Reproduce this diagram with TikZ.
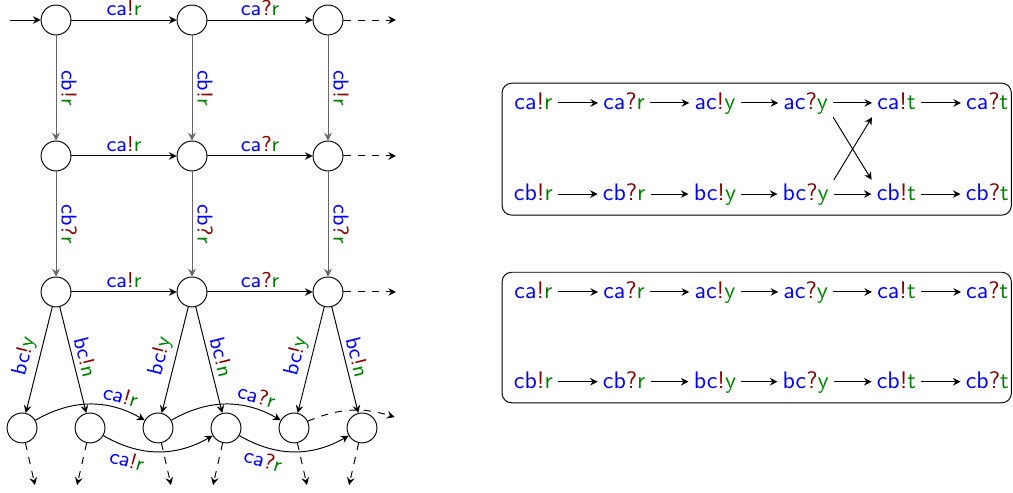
\documentclass[tikz,border=0pt]{standalone}
\usetikzlibrary{arrows.meta}

\begin{document}
\begin{tikzpicture}[font=\sffamily, >={Stealth[length=3.2pt, width=3.2pt, inset=1.1pt]}]
\newcommand{\chanmsg}[3]{\textcolor{blue}{#1}\textcolor{red!50!black}{#2}\textcolor{green!50!black}{#3}}
\newcommand{\boxL}{6.56}
\newcommand{\boxR}{14.05}

\tikzset{ loc/.style={draw, circle, minimum size=4.4mm, inner sep=0pt},
  msg/.style={text height=1.5ex, text depth=.25ex, inner sep=2pt},
  hlbl/.style={above, font=\sffamily\small, inner sep=1.5pt},
  lbl/.style={above, sloped, font=\sffamily\small, inner sep=2pt},
  vstep/.style={->, black!60}
}

\useasboundingbox (-0.824, 0.294) rectangle (14.074, -6.956);

\node[loc] (g11) at (0, 0) {};
\node[loc] (g12) at (2, 0) {};
\node[loc] (g13) at (4, 0) {};
\node[loc] (g21) at (0, -2) {};
\node[loc] (g22) at (2, -2) {};
\node[loc] (g23) at (4, -2) {};
\node[loc] (g31) at (0, -4) {};
\node[loc] (g32) at (2, -4) {};
\node[loc] (g33) at (4, -4) {};

\node[loc] (b1) at (-0.5, -6) {};
\node[loc] (b2) at (0.5, -6) {};
\node[loc] (b3) at (1.5, -6) {};
\node[loc] (b4) at (2.5, -6) {};
\node[loc] (b5) at (3.5, -6) {};
\node[loc] (b6) at (4.5, -6) {};

\coordinate (in) at (-0.68, 0);
\coordinate (o1) at (5, 0);
\coordinate (o2) at (5, -2);
\coordinate (o3) at (5, -4);
\coordinate (o4) at (4.98, -5.84);
\coordinate (d1) at (-0.31, -6.84);
\coordinate (d2) at (0.31, -6.84);
\coordinate (d3) at (1.69, -6.84);
\coordinate (d4) at (2.31, -6.84);
\coordinate (d5) at (3.69, -6.84);
\coordinate (d6) at (4.31, -6.84);

\draw[->] (in) -- (g11);
\draw[->] (g11) -- node[hlbl] {\chanmsg{ca}{!}{r}} (g12);
\draw[->] (g12) -- node[hlbl] {\chanmsg{ca}{?}{r}} (g13);
\draw[->, dashed] (g13) -- (o1);
\draw[->] (g21) -- node[hlbl] {\chanmsg{ca}{!}{r}} (g22);
\draw[->] (g22) -- node[hlbl] {\chanmsg{ca}{?}{r}} (g23);
\draw[->, dashed] (g23) -- (o2);
\draw[->] (g31) -- node[hlbl] {\chanmsg{ca}{!}{r}} (g32);
\draw[->] (g32) -- node[hlbl] {\chanmsg{ca}{?}{r}} (g33);
\draw[->, dashed] (g33) -- (o3);

\draw[vstep] (g11) -- node[lbl] {\chanmsg{cb}{!}{r}} (g21);
\draw[vstep] (g12) -- node[lbl] {\chanmsg{cb}{!}{r}} (g22);
\draw[vstep] (g13) -- node[lbl] {\chanmsg{cb}{!}{r}} (g23);
\draw[vstep] (g21) -- node[lbl] {\chanmsg{cb}{?}{r}} (g31);
\draw[vstep] (g22) -- node[lbl] {\chanmsg{cb}{?}{r}} (g32);
\draw[vstep] (g23) -- node[lbl] {\chanmsg{cb}{?}{r}} (g33);

\draw[->] (g31) -- node[lbl] {\chanmsg{bc}{!}{y}} (b1);
\draw[->] (g31) -- node[lbl] {\chanmsg{bc}{!}{n}} (b2);
\draw[->] (g32) -- node[lbl] {\chanmsg{bc}{!}{y}} (b3);
\draw[->] (g32) -- node[lbl] {\chanmsg{bc}{!}{n}} (b4);
\draw[->] (g33) -- node[lbl] {\chanmsg{bc}{!}{y}} (b5);
\draw[->] (g33) -- node[lbl] {\chanmsg{bc}{!}{n}} (b6);

\draw[->] (b1) to[bend left=30] node[lbl, pos=0.75] {\chanmsg{ca}{!}{r}} (b3);
\draw[->] (b3) to[bend left=30] node[lbl, pos=0.75] {\chanmsg{ca}{?}{r}} (b5);
\draw[->, dashed] (b5) to[bend left=20] (o4);
\draw[->] (b2) to[bend right=30] node[lbl, below, pos=0.25] {\chanmsg{ca}{!}{r}} (b4);
\draw[->] (b4) to[bend right=30] node[lbl, below, pos=0.25] {\chanmsg{ca}{?}{r}} (b6);

\draw[->, dashed] (b1) -- (d1);
\draw[->, dashed] (b2) -- (d2);
\draw[->, dashed] (b3) -- (d3);
\draw[->, dashed] (b4) -- (d4);
\draw[->, dashed] (b5) -- (d5);
\draw[->, dashed] (b6) -- (d6);

\draw[rounded corners] (\boxL, -0.93) rectangle (\boxR, -2.87);
\node[msg] (p1) at (7.02, -1.22) {\chanmsg{ca}{!}{r}};
\node[msg] (p2) at (8.355, -1.22) {\chanmsg{ca}{?}{r}};
\node[msg] (p3) at (9.69, -1.22) {\chanmsg{ac}{!}{y}};
\node[msg] (p4) at (11.025, -1.22) {\chanmsg{ac}{?}{y}};
\node[msg] (p5) at (12.36, -1.22) {\chanmsg{ca}{!}{t}};
\node[msg] (p6) at (13.695, -1.22) {\chanmsg{ca}{?}{t}};
\node[msg] (q1) at (7.02, -2.56) {\chanmsg{cb}{!}{r}};
\node[msg] (q2) at (8.355, -2.56) {\chanmsg{cb}{?}{r}};
\node[msg] (q3) at (9.69, -2.56) {\chanmsg{bc}{!}{y}};
\node[msg] (q4) at (11.025, -2.56) {\chanmsg{bc}{?}{y}};
\node[msg] (q5) at (12.36, -2.56) {\chanmsg{cb}{!}{t}};
\node[msg] (q6) at (13.695, -2.56) {\chanmsg{cb}{?}{t}};
\draw[->] (p1) -- (p2);
\draw[->] (p2) -- (p3);
\draw[->] (p3) -- (p4);
\draw[->] (p4) -- (p5);
\draw[->] (p5) -- (p6);
\draw[->] (q1) -- (q2);
\draw[->] (q2) -- (q3);
\draw[->] (q3) -- (q4);
\draw[->] (q4) -- (q5);
\draw[->] (q5) -- (q6);
\draw[->] (p4.south east) -- (q5.north west);
\draw[->] (q4.north east) -- (p5.south west);

\draw[rounded corners] (\boxL, -3.71) rectangle (\boxR, -5.63);
\node[msg] (r1) at (7.02, -4.0) {\chanmsg{ca}{!}{r}};
\node[msg] (r2) at (8.355, -4.0) {\chanmsg{ca}{?}{r}};
\node[msg] (r3) at (9.69, -4.0) {\chanmsg{ac}{!}{y}};
\node[msg] (r4) at (11.025, -4.0) {\chanmsg{ac}{?}{y}};
\node[msg] (r5) at (12.36, -4.0) {\chanmsg{ca}{!}{t}};
\node[msg] (r6) at (13.695, -4.0) {\chanmsg{ca}{?}{t}};
\node[msg] (s1) at (7.02, -5.32) {\chanmsg{cb}{!}{r}};
\node[msg] (s2) at (8.355, -5.32) {\chanmsg{cb}{?}{r}};
\node[msg] (s3) at (9.69, -5.32) {\chanmsg{bc}{!}{y}};
\node[msg] (s4) at (11.025, -5.32) {\chanmsg{bc}{?}{y}};
\node[msg] (s5) at (12.36, -5.32) {\chanmsg{cb}{!}{t}};
\node[msg] (s6) at (13.695, -5.32) {\chanmsg{cb}{?}{t}};
\draw[->] (r1) -- (r2);
\draw[->] (r2) -- (r3);
\draw[->] (r3) -- (r4);
\draw[->] (r4) -- (r5);
\draw[->] (r5) -- (r6);
\draw[->] (s1) -- (s2);
\draw[->] (s2) -- (s3);
\draw[->] (s3) -- (s4);
\draw[->] (s4) -- (s5);
\draw[->] (s5) -- (s6);

\end{tikzpicture}
\end{document}
